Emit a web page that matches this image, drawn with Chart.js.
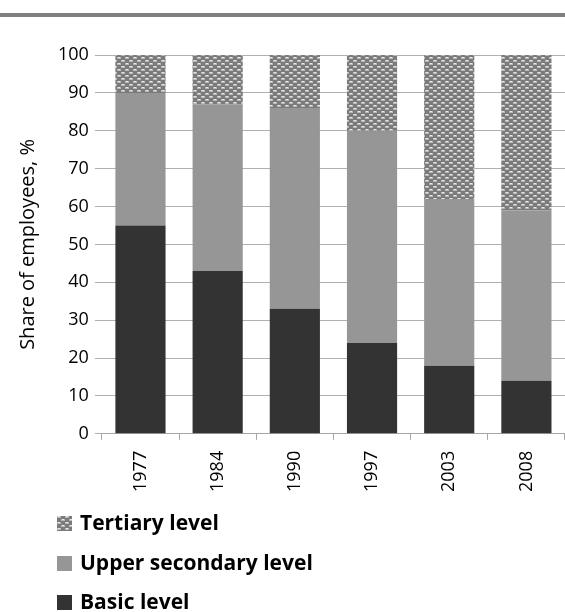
<!DOCTYPE html>
<html>
<head>
<meta charset="utf-8">
<script src="https://cdn.jsdelivr.net/npm/chart.js@4"></script>
<style>
  html, body { margin: 0; padding: 0; background: #fff; }
  #wrap { position: relative; width: 565px; height: 612px; }
</style>
</head>
<body>
<div id="wrap"><canvas id="bar-chart" width="565" height="612"></canvas></div>
<script>
// ------------------------------------------------------
// @Data
// ------------------------------------------------------
const years = ['1977', '1984', '1990', '1997', '2003', '2008'];
const basicLevel = [55, 43, 33, 24, 18, 14];
const upperSecondaryLevel = [35, 44, 53, 56, 44, 45];
const tertiaryLevel = [10, 13, 14, 20, 38, 41];
const yTicks = [0, 10, 20, 30, 40, 50, 60, 70, 80, 90, 100];

const FONT = '"Open Sans", "Liberation Sans", sans-serif';

// dotted/brick pattern used for the tertiary series
function makePattern() {
  const c = document.createElement('canvas');
  c.width = 8;
  c.height = 6;
  const g = c.getContext('2d');
  g.fillStyle = '#7b7b7b';
  g.fillRect(0, 0, 8, 6);
  g.fillStyle = '#b8b8b8';
  g.fillRect(1, 0, 4, 2);
  g.fillRect(5, 3, 3, 2);
  g.fillRect(0, 3, 1, 2);
  g.fillStyle = '#e8e8e8';
  g.fillRect(2, 0, 2, 1);
  g.fillRect(6, 3, 2, 1);
  return document.getElementById('bar-chart').getContext('2d').createPattern(c, 'repeat');
}

const tertiaryFill = makePattern();

// gray rule on top + vertical legend at the bottom
const decorPlugin = {
  id: 'decor',
  afterDraw(chart) {
    const ctx = chart.ctx;
    ctx.save();
    ctx.fillStyle = '#808080';
    ctx.fillRect(0, 13, chart.width, 4);

    const items = chart.data.datasets.slice().reverse();
    const rowsY = [523, 563, 602];
    ctx.font = 'bold 21px ' + FONT;
    ctx.textBaseline = 'middle';
    items.forEach((ds, i) => {
      const y = rowsY[i];
      ctx.fillStyle = ds.backgroundColor;
      ctx.fillRect(57, y - 7, 15, 15);
      ctx.fillStyle = '#000';
      ctx.fillText(ds.label, 80, y + 1);
    });
    ctx.restore();
  },
};

const barCtx = document.getElementById('bar-chart').getContext('2d');

new Chart(barCtx, {
  type: 'bar',
  data: {
    labels: years,
    datasets: [{
      label           : 'Basic level',
      backgroundColor : '#333333',
      data            : basicLevel,
    }, {
      label           : 'Upper secondary level',
      backgroundColor : '#969696',
      data            : upperSecondaryLevel,
    }, {
      label           : 'Tertiary level',
      backgroundColor : tertiaryFill,
      data            : tertiaryLevel,
    }],
  },
  options: {
    responsive: false,
    animation: false,
    layout: {
      padding: { top: 55, right: -13, bottom: 109, left: 16 },
    },
    datasets: {
      bar: { categoryPercentage: 1, barPercentage: 0.65 },
    },
    plugins: {
      legend: { display: false },
      tooltip: { enabled: false },
    },
    scales: {
      x: {
        stacked: true,
        offset: true,
        grid: {
          offset: true,
          drawOnChartArea: false,
          color: '#a6a6a6',
          tickLength: 6,
        },
        border: { color: '#a6a6a6' },
        ticks: {
          minRotation: 90,
          maxRotation: 90,
          color: '#000',
          padding: 11,
          font: { family: FONT, size: 18 },
        },
      },
      y: {
        stacked: true,
        min: 0,
        max: 100,
        afterBuildTicks(axis) {
          axis.ticks = yTicks.map(v => ({ value: v }));
        },
        grid: {
          color: '#b0b0b0',
          tickLength: 7,
        },
        border: { display: false },
        ticks: {
          color: '#000',
          padding: 6,
          font: { family: FONT, size: 18 },
        },
        title: {
          display: true,
          text: 'Share of employees, %',
          color: '#000',
          padding: { top: 0, bottom: 12 },
          font: { family: FONT, size: 20 },
        },
      },
    },
  },
  plugins: [decorPlugin],
});
</script>
</body>
</html>
